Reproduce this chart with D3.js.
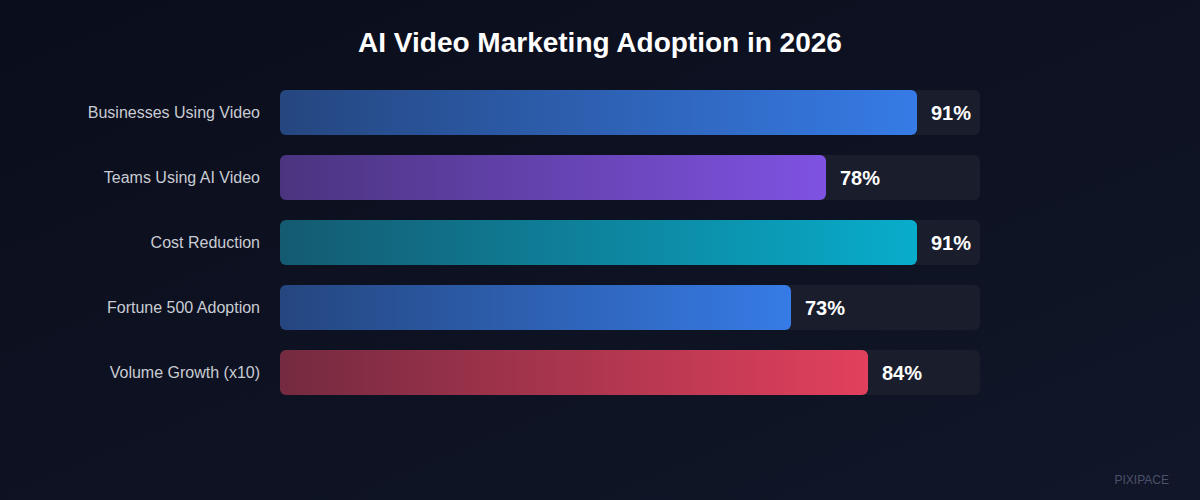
<!DOCTYPE html>
<html>
<head>
<meta charset="utf-8">
<script src="https://cdn.jsdelivr.net/npm/d3@7"></script>
<style>
  html, body { margin: 0; padding: 0; background: #0b0f1e; }
  svg { display: block; }
</style>
</head>
<body>
<div class="barChart"></div>
<script>
// chart values
const categories = ["Businesses Using Video", "Teams Using AI Video", "Cost Reduction", "Fortune 500 Adoption", "Volume Growth (x10)"];
const values = [91, 78, 91, 73, 84];
const valueLabels = ["91%", "78%", "91%", "73%", "84%"];
const chartTitle = "AI Video Marketing Adoption in 2026";

// gradient start/end per bar
const gradStart = ["#25467f", "#4b347f", "#145a70", "#25467f", "#742a40"];
const gradEnd = ["#367be6", "#7f52e2", "#08adcb", "#367be6", "#e2405c"];

const width = 1200, height = 500;
const margin = {top: 90, right: 220, bottom: 105, left: 280};

const svg = d3.select(".barChart")
  .append("svg")
  .attr("width", width)
  .attr("height", height);

const defs = svg.append("defs");

// background
const bg = defs.append("linearGradient").attr("id", "bg")
  .attr("x1", "0").attr("y1", "0").attr("x2", "1").attr("y2", "1");
bg.append("stop").attr("offset", "0").attr("stop-color", "#0a0d1b");
bg.append("stop").attr("offset", "1").attr("stop-color", "#111729");
svg.append("rect").attr("width", width).attr("height", height).attr("fill", "url(#bg)");

categories.forEach((c, i) => {
  const g = defs.append("linearGradient").attr("id", "grad" + i)
    .attr("x1", "0").attr("y1", "0").attr("x2", "1").attr("y2", "0");
  g.append("stop").attr("offset", "0").attr("stop-color", gradStart[i]);
  g.append("stop").attr("offset", "1").attr("stop-color", gradEnd[i]);
});

// title
svg.append("text")
  .text(chartTitle)
  .attr("x", width / 2)
  .attr("y", 52)
  .attr("text-anchor", "middle")
  .attr("fill", "#ffffff")
  .attr("font-family", "'Liberation Sans', Arial, sans-serif")
  .attr("font-size", "28px")
  .attr("font-weight", "bold");

const x = d3.scaleLinear()
  .domain([0, 100])
  .range([margin.left, width - margin.right]);

const y = d3.scaleBand()
  .domain(categories)
  .range([margin.top, height - margin.bottom])
  .paddingInner(20 / 65)
  .paddingOuter(0);

const rows = svg.selectAll("g.row")
  .data(categories)
  .join("g")
  .attr("class", "row");

// track
rows.append("rect")
  .attr("x", x(0))
  .attr("y", d => y(d))
  .attr("width", x(100) - x(0))
  .attr("height", y.bandwidth())
  .attr("rx", 6)
  .attr("fill", "#191d2c");

// bars
rows.append("rect")
  .attr("x", x(0))
  .attr("y", d => y(d))
  .attr("width", (d, i) => x(values[i]) - x(0))
  .attr("height", y.bandwidth())
  .attr("rx", 6)
  .attr("fill", (d, i) => `url(#grad${i})`);

// category labels
rows.append("text")
  .text(d => d)
  .attr("x", x(0) - 20)
  .attr("y", d => y(d) + y.bandwidth() / 2)
  .attr("dy", "0.35em")
  .attr("text-anchor", "end")
  .attr("fill", "#c9ccd3")
  .attr("font-family", "'Liberation Sans', Arial, sans-serif")
  .attr("font-size", "16px");

// value labels
rows.append("text")
  .text((d, i) => valueLabels[i])
  .attr("x", (d, i) => x(values[i]) + 14)
  .attr("y", d => y(d) + y.bandwidth() / 2)
  .attr("dy", "0.36em")
  .attr("fill", "#ffffff")
  .attr("font-family", "'Liberation Sans', Arial, sans-serif")
  .attr("font-size", "20px")
  .attr("font-weight", "bold");

// watermark
svg.append("text")
  .text("PIXIPACE")
  .attr("x", 1169)
  .attr("y", 484)
  .attr("text-anchor", "end")
  .attr("fill", "#4b5168")
  .attr("font-family", "'Liberation Sans', Arial, sans-serif")
  .attr("font-size", "12px");
</script>
</body>
</html>
